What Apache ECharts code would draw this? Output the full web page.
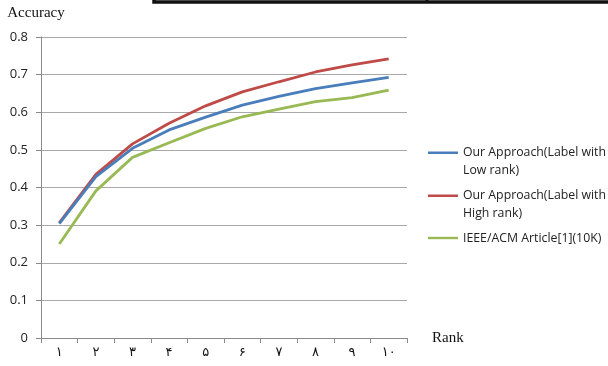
<!DOCTYPE html>
<html>
<head>
<meta charset="utf-8">
<style>
  html, body { margin: 0; padding: 0; background: #fff; }
  #chart { width: 608px; height: 366px; }
</style>
<script src="https://cdn.jsdelivr.net/npm/echarts@6/dist/echarts.min.js"></script>
</head>
<body>
<div id="chart"></div>
<script>
// Rank categories (extended Arabic-Indic numerals)
const ranks = ['۱', '۲', '۳', '۴', '۵', '۶', '۷', '۸', '۹', '۱۰'];

// Accuracy per rank
const lowRank  = [0.304, 0.429, 0.504, 0.553, 0.587, 0.619, 0.642, 0.663, 0.678, 0.693];
const highRank = [0.306, 0.435, 0.516, 0.571, 0.617, 0.654, 0.681, 0.707, 0.726, 0.742];
const article  = [0.250, 0.391, 0.480, 0.519, 0.557, 0.588, 0.608, 0.628, 0.639, 0.659];

const seriesNames = [
  'Our Approach(Label with\nLow rank)',
  'Our Approach(Label with\nHigh rank)',
  'IEEE/ACM Article[1](10K)'
];
const colors = ['#4a7ebb', '#be4b48', '#98b954'];

// legend line sits beside the first text line of a two-line entry
const topLineIcon = 'path://M0,0 L30,0 L30,2.4 L0,2.4 Z M0,19 L0.01,19 Z';
const midLineIcon = 'path://M0,0 L30,0 L30,2.4 L0,2.4 Z';

const chart = echarts.init(document.getElementById('chart'));

const labelFont = '"Open Sans", "Noto Sans", sans-serif';
const serifFont = '"Liberation Serif", "DejaVu Serif", serif';

chart.setOption({
  animation: false,
  color: colors,
  grid: { left: 41, top: 37, right: 201, bottom: 28, containLabel: false },
  legend: {
    orient: 'vertical',
    left: 423,
    top: 138,
    itemWidth: 30,
    itemHeight: 19,
    itemGap: 7,
    textStyle: { fontFamily: labelFont, fontSize: 12.3, color: '#222', lineHeight: 18 },
    data: [
      { name: seriesNames[0], icon: topLineIcon },
      { name: seriesNames[1], icon: topLineIcon },
      { name: seriesNames[2], icon: midLineIcon }
    ]
  },
  xAxis: {
    type: 'category',
    data: ranks,
    boundaryGap: true,
    name: 'Rank',
    nameLocation: 'end',
    nameGap: 25,
    nameTextStyle: { fontFamily: serifFont, fontSize: 15, color: '#111', verticalAlign: 'middle' },
    axisLine: { lineStyle: { color: '#8a8a8a', width: 1 } },
    axisTick: { show: true, alignWithLabel: false, length: 5, lineStyle: { color: '#8a8a8a' } },
    axisLabel: { margin: 8, fontFamily: '"DejaVu Sans", sans-serif', fontSize: 13, color: '#111' },
    splitLine: { show: false }
  },
  yAxis: {
    type: 'value',
    min: 0,
    max: 0.8,
    interval: 0.1,
    name: 'Accuracy',
    nameLocation: 'end',
    nameGap: 16,
    nameTextStyle: { fontFamily: serifFont, fontSize: 15, color: '#111', padding: [0, 10, 0, 0] },
    axisLine: { show: true, lineStyle: { color: '#8a8a8a', width: 1 } },
    axisTick: { show: true, length: 5, lineStyle: { color: '#8a8a8a' } },
    axisLabel: {
      margin: 13,
      fontFamily: labelFont,
      fontSize: 13,
      color: '#222',
      formatter: v => (Math.round(v * 10) / 10).toString()
    },
    splitLine: { show: true, lineStyle: { color: '#a8a8a8', width: 1 } }
  },
  series: [
    { name: seriesNames[0], type: 'line', data: lowRank,  showSymbol: false, symbol: 'none', lineStyle: { width: 2.8 }, z: 3 },
    { name: seriesNames[1], type: 'line', data: highRank, showSymbol: false, symbol: 'none', lineStyle: { width: 2.8 }, z: 2 },
    { name: seriesNames[2], type: 'line', data: article,  showSymbol: false, symbol: 'none', lineStyle: { width: 2.8 }, z: 2 }
  ],
  graphic: [
    // framed box edge along the top of the page
    { type: 'rect', shape: { x: 154, y: -20, width: 470, height: 22 },
      style: { fill: null, stroke: '#111', lineWidth: 3.5 } },
    { type: 'line', shape: { x1: 427, y1: -2, x2: 427, y2: 3 },
      style: { stroke: '#111', lineWidth: 3 } }
  ]
});
</script>
</body>
</html>
